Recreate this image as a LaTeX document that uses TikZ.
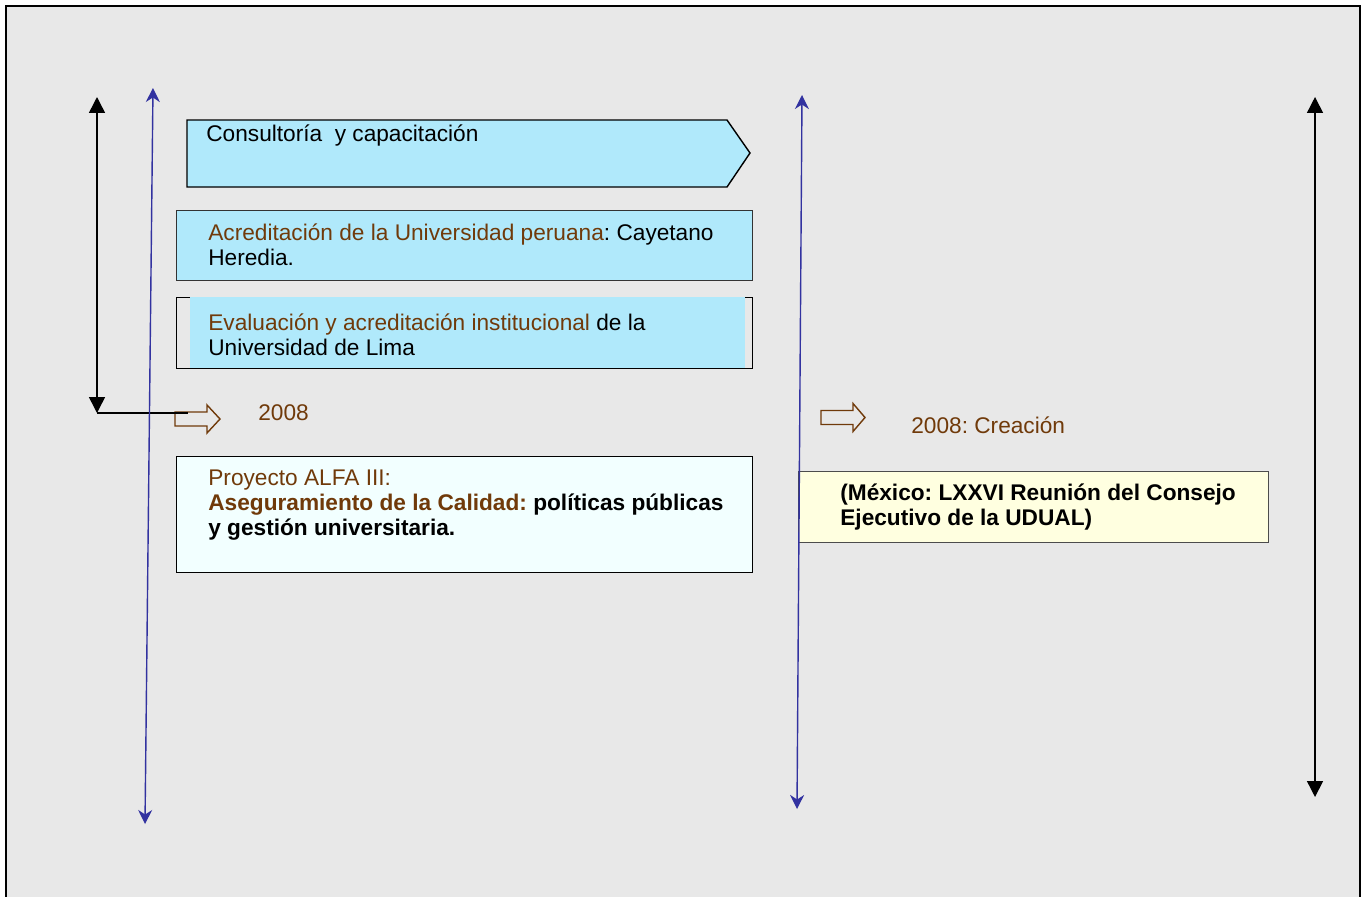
\documentclass[tikz,border=0pt]{standalone}
\usepackage{fontspec}
\setmainfont{Liberation Sans}
\usetikzlibrary{arrows.meta}
\definecolor{bgpaper}{RGB}{232,232,232}
\definecolor{skyfill}{RGB}{176,233,251}
\definecolor{azurefill}{RGB}{242,255,255}
\definecolor{creamfill}{RGB}{255,255,224}
\definecolor{yearbrown}{RGB}{112,58,10}
\definecolor{lineblue}{RGB}{50,50,160}
\frenchspacing

\begin{document}
\begin{tikzpicture}[
    x=0.02cm, y=-0.02cm,
    txt/.style={inner sep=0pt, anchor=west, align=left, font=\fontsize{12.9}{14.4}\selectfont},
    boldtxt/.style={txt, font=\fontsize{12.9}{14.4}\selectfont\bfseries},
    skybox/.style={fill=skyfill, draw=black!80, line width=0.5pt},
    outline/.style={draw=black, line width=0.5pt},
    yeararrow/.style={draw=yearbrown, line width=0.8pt},
    blackspan/.style={{Triangle[length=9pt,width=9pt]}-{Triangle[length=9pt,width=9pt]}, line width=0.85pt},
    bluespan/.style={{Stealth[length=8pt,width=8pt]}-{Stealth[length=8pt,width=8pt]}, lineblue, line width=0.8pt}
]
    % Page
    \useasboundingbox (0,0) rectangle (1364,896);
    \fill[bgpaper] (6,6) rectangle (1360,900);
    \draw[line width=1.2pt] (6,900) -- (6,6) -- (1360,6) -- (1360,900);

    % Boxes
    \draw[skybox, draw=black, line width=0.8pt] (187,120) -- (727,120) -- (750,153) -- (727,187) -- (187,187) -- cycle;
    \draw[skybox] (176,210) rectangle (752,280);
    \draw[outline] (176,297) rectangle (752,368);
    \fill[skyfill] (190,297) rectangle (745,368);
    \draw[outline, fill=azurefill] (176,456) rectangle (752,572);
    \draw[draw=black!70, line width=0.5pt, fill=creamfill] (798,471) rectangle (1268,542);

    % Texts
    \node[txt] (consult) at (206,136) {Consultoría\ \ y capacitación};
    \node[txt] (acred) at (208,244.5) {\textcolor{yearbrown}{Acreditación de la Universidad peruana}: Cayetano\\Heredia.};
    \node[txt] (evalua) at (208,334.5) {\textcolor{yearbrown}{Evaluación y acreditación institucional} de la\\Universidad de Lima};
    \node[txt] (year) at (258,413) {\textcolor{yearbrown}{2008}};
    \node[txt] (alfa) at (208,505) {\textcolor{yearbrown}{Proyecto ALFA III:}\\
        \textbf{\textcolor{yearbrown}{Aseguramiento de la Calidad:} políticas públicas}\\
        \textbf{y gestión universitaria.}};
    \node[txt] (creacion) at (911,425) {\textcolor{yearbrown}{2008: Creación}};
    \node[boldtxt] (udual) at (840,507) {(México: LXXVI Reunión del Consejo\\Ejecutivo de la UDUAL)};

    % Year arrows
    \draw[yeararrow] (175,412) -- ++(32,0) -- ++(0,-7) -- ++(13,14) -- ++(-13,14) -- ++(0,-7) -- ++(-32,0) -- cycle;
    \draw[yeararrow] (821,410.5) -- ++(32,0) -- ++(0,-7) -- ++(12,14) -- ++(-12,14) -- ++(0,-7) -- ++(-32,0) -- cycle;

    % Spans
    \coordinate (lefttop) at (97,97);
    \coordinate (leftbot) at (97,413);
    \coordinate (leftend) at (188,413);
    \draw[blackspan] (lefttop) -- (leftbot);
    \draw[line width=0.85pt] (leftbot) -- (leftend);
    \coordinate (bluetop) at (153,88);
    \coordinate (bluebot) at (145,824);
    \draw[bluespan] (bluetop) -- (bluebot);
    \coordinate (midtop) at (802,95);
    \coordinate (midbot) at (797,809);
    \draw[bluespan] (midtop) -- (midbot);
    \coordinate (righttop) at (1315,97);
    \coordinate (rightbot) at (1315,797);
    \draw[blackspan] (righttop) -- (rightbot);
\end{tikzpicture}
\end{document}
